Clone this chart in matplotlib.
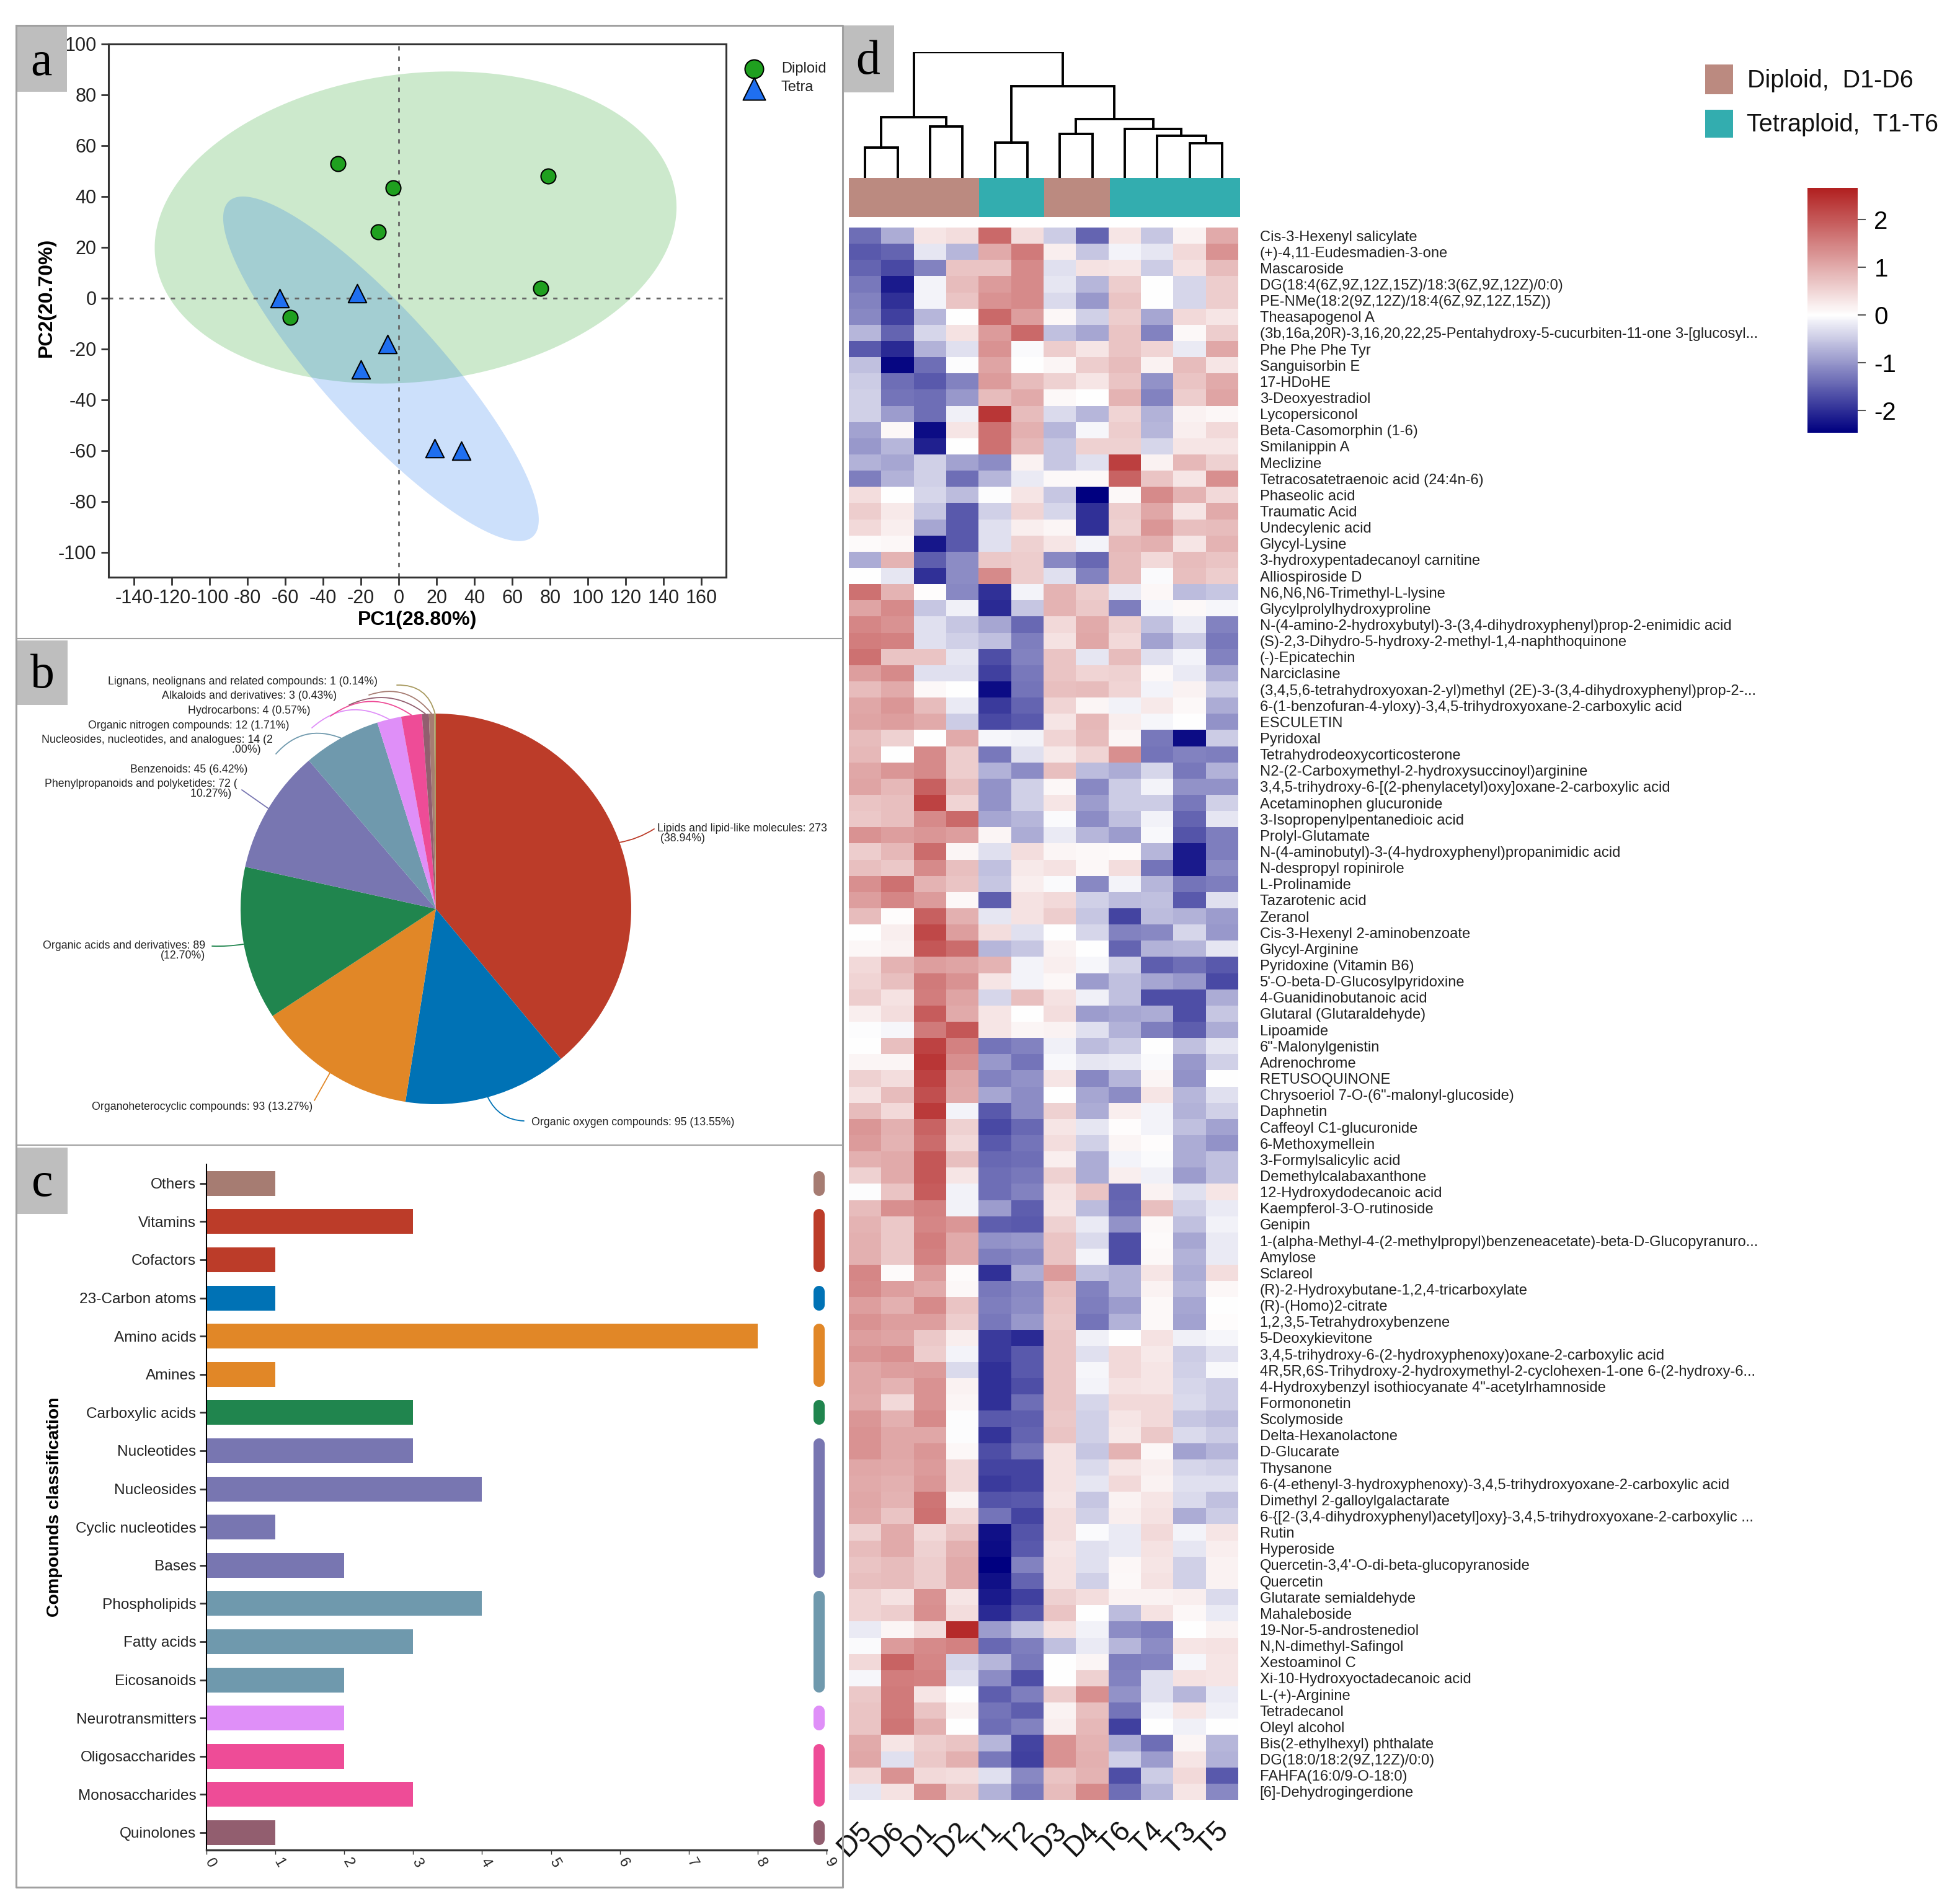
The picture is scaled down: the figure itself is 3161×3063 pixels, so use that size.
import numpy as np
import matplotlib
matplotlib.use("Agg")
from matplotlib import pyplot as plt
from matplotlib.colors import LinearSegmentedColormap, ListedColormap, TwoSlopeNorm
from matplotlib.patches import Rectangle
from matplotlib.transforms import ScaledTranslation

plt.rcParams['font.family'] = ['Liberation Sans', 'DejaVu Sans']
plt.rcParams['axes.unicode_minus'] = False

W = 3161
H = 3063

# panel a
diploid_pc1 = [-32, -3, 79, -11, 75, -57.5]
diploid_pc2 = [53, 43.5, 48, 26, 4, -7.6]
tetra_pc1 = [-63, -22, -6, -20, 19, 33]
tetra_pc2 = [0, 2, -18, -28, -59, -60]
# centre x, centre y, half width, half height, correlation
diploid_ellipse = [8.9, 27.8, 137.9, 61.4, 0.13]
tetra_ellipse = [-9.4, -27.8, 83.4, 67.8, -0.875]
pc1_ticks = list(range(-140, 161, 20))
pc2_ticks = list(range(-100, 101, 20))

# panel b
pie_names = ["Lipids and lipid-like molecules: 273\n (38.94%)",
             "Organic oxygen compounds: 95 (13.55%)",
             "Organoheterocyclic compounds: 93 (13.27%)",
             "Organic acids and derivatives: 89\n(12.70%)",
             "Phenylpropanoids and polyketides: 72 (\n10.27%)  ",
             "Benzenoids: 45 (6.42%)",
             "Nucleosides, nucleotides, and analogues: 14 (2\n.00%)    ",
             "Organic nitrogen compounds: 12 (1.71%)",
             "Hydrocarbons: 4 (0.57%)",
             "Alkaloids and derivatives: 3 (0.43%)",
             "Lignans, neolignans and related compounds: 1 (0.14%)"]
pie_counts = [273, 95, 93, 89, 72, 45, 14, 12, 4, 3, 1]
pie_colors = ["#BC3C29", "#0072B5", "#E18727", "#20854E", "#7876B1", "#6F99AD",
              "#DF8FF8", "#EE4C97", "#925E6F", "#A67C72", "#A89A60"]

# panel c
bar_names = ["Others", "Vitamins", "Cofactors", "23-Carbon atoms", "Amino acids", "Amines",
             "Carboxylic acids", "Nucleotides", "Nucleosides", "Cyclic nucleotides", "Bases",
             "Phospholipids", "Fatty acids", "Eicosanoids", "Neurotransmitters",
             "Oligosaccharides", "Monosaccharides", "Quinolones"]
bar_counts = [1, 3, 1, 1, 8, 1, 3, 3, 4, 1, 2, 4, 3, 2, 2, 2, 3, 1]
bar_groups = [0, 1, 1, 2, 3, 3, 4, 5, 5, 5, 5, 6, 6, 6, 7, 8, 8, 9]
group_colors = ["#A67C72", "#BC3C29", "#0072B5", "#E18727", "#20854E", "#7876B1",
                "#6F99AD", "#DF8FF8", "#EE4C97", "#925E6F"]

# panel d
sample_names = ["D5", "D6", "D1", "D2", "T1", "T2", "D3", "D4", "T6", "T4", "T3", "T5"]
# left node, right node, height. Leaves are 0-11, each merge makes the next node
merges = [(0, 1, 76), (2, 3, 130), (12, 13, 153), (4, 5, 90), (6, 7, 112), (10, 11, 87),
          (9, 17, 106), (8, 18, 123), (16, 19, 149), (15, 20, 232), (14, 21, 318)]
metabolites = [
    "Cis-3-Hexenyl salicylate", "(+)-4,11-Eudesmadien-3-one", "Mascaroside",
    "DG(18:4(6Z,9Z,12Z,15Z)/18:3(6Z,9Z,12Z)/0:0)", "PE-NMe(18:2(9Z,12Z)/18:4(6Z,9Z,12Z,15Z))",
    "Theasapogenol A", "(3b,16a,20R)-3,16,20,22,25-Pentahydroxy-5-cucurbiten-11-one 3-[glucosyl...",
    "Phe Phe Phe Tyr", "Sanguisorbin E", "17-HDoHE", "3-Deoxyestradiol", "Lycopersiconol",
    "Beta-Casomorphin (1-6)", "Smilanippin A", "Meclizine", "Tetracosatetraenoic acid (24:4n-6)",
    "Phaseolic acid", "Traumatic Acid", "Undecylenic acid", "Glycyl-Lysine",
    "3-hydroxypentadecanoyl carnitine", "Alliospiroside D", "N6,N6,N6-Trimethyl-L-lysine",
    "Glycylprolylhydroxyproline", "N-(4-amino-2-hydroxybutyl)-3-(3,4-dihydroxyphenyl)prop-2-enimidic acid",
    "(S)-2,3-Dihydro-5-hydroxy-2-methyl-1,4-naphthoquinone", "(-)-Epicatechin", "Narciclasine",
    "(3,4,5,6-tetrahydroxyoxan-2-yl)methyl (2E)-3-(3,4-dihydroxyphenyl)prop-2-...",
    "6-(1-benzofuran-4-yloxy)-3,4,5-trihydroxyoxane-2-carboxylic acid", "ESCULETIN", "Pyridoxal",
    "Tetrahydrodeoxycorticosterone", "N2-(2-Carboxymethyl-2-hydroxysuccinoyl)arginine",
    "3,4,5-trihydroxy-6-[(2-phenylacetyl)oxy]oxane-2-carboxylic acid", "Acetaminophen glucuronide",
    "3-Isopropenylpentanedioic acid", "Prolyl-Glutamate",
    "N-(4-aminobutyl)-3-(4-hydroxyphenyl)propanimidic acid", "N-despropyl ropinirole", "L-Prolinamide",
    "Tazarotenic acid", "Zeranol", "Cis-3-Hexenyl 2-aminobenzoate", "Glycyl-Arginine",
    "Pyridoxine (Vitamin B6)", "5'-O-beta-D-Glucosylpyridoxine", "4-Guanidinobutanoic acid",
    "Glutaral (Glutaraldehyde)", "Lipoamide", "6\"-Malonylgenistin", "Adrenochrome", "RETUSOQUINONE",
    "Chrysoeriol 7-O-(6\"-malonyl-glucoside)", "Daphnetin", "Caffeoyl C1-glucuronide", "6-Methoxymellein",
    "3-Formylsalicylic acid", "Demethylcalabaxanthone", "12-Hydroxydodecanoic acid",
    "Kaempferol-3-O-rutinoside", "Genipin",
    "1-(alpha-Methyl-4-(2-methylpropyl)benzeneacetate)-beta-D-Glucopyranuro...", "Amylose", "Sclareol",
    "(R)-2-Hydroxybutane-1,2,4-tricarboxylate", "(R)-(Homo)2-citrate", "1,2,3,5-Tetrahydroxybenzene",
    "5-Deoxykievitone", "3,4,5-trihydroxy-6-(2-hydroxyphenoxy)oxane-2-carboxylic acid",
    "4R,5R,6S-Trihydroxy-2-hydroxymethyl-2-cyclohexen-1-one 6-(2-hydroxy-6...",
    "4-Hydroxybenzyl isothiocyanate 4\"-acetylrhamnoside", "Formononetin", "Scolymoside",
    "Delta-Hexanolactone", "D-Glucarate", "Thysanone",
    "6-(4-ethenyl-3-hydroxyphenoxy)-3,4,5-trihydroxyoxane-2-carboxylic acid",
    "Dimethyl 2-galloylgalactarate",
    "6-{[2-(3,4-dihydroxyphenyl)acetyl]oxy}-3,4,5-trihydroxyoxane-2-carboxylic ...", "Rutin", "Hyperoside",
    "Quercetin-3,4'-O-di-beta-glucopyranoside", "Quercetin", "Glutarate semialdehyde", "Mahaleboside",
    "19-Nor-5-androstenediol", "N,N-dimethyl-Safingol", "Xestoaminol C", "Xi-10-Hydroxyoctadecanoic acid",
    "L-(+)-Arginine", "Tetradecanol", "Oleyl alcohol", "Bis(2-ethylhexyl) phthalate",
    "DG(18:0/18:2(9Z,12Z)/0:0)", "FAHFA(16:0/9-O-18:0)", "[6]-Dehydrogingerdione"]
heat_values = [
    [-1.4, -.8, .3, .4, 1.8, .4, -.5, -1.5, .3, -.55, .15, 1.0],
    [-1.6, -1.5, -.25, -.7, 1.0, 1.6, .2, -.55, -.1, -.25, .45, 1.3],
    [-1.5, -1.75, -1.2, .7, .7, 1.4, -.3, .35, .3, -.5, .35, .8],
    [-1.3, -2.2, -.1, .8, 1.2, 1.4, -.25, -.7, .6, 0, -.4, .6],
    [-1.2, -2.0, -.1, .7, 1.3, 1.4, -.35, -1.0, .7, 0, -.4, .6],
    [-1.15, -1.85, -.7, 0, 1.8, 1.15, .1, -.45, .6, -.85, .45, .3],
    [-.7, -1.5, -.4, .35, 1.2, 1.8, -.6, -.85, .7, -1.2, .08, .6],
    [-1.6, -2.05, -.75, -.3, 1.3, -.05, .6, .3, .7, .5, -.2, 1.05],
    [-.6, -2.4, -1.4, -.02, 1.1, 0, .12, .6, .8, .15, .8, .3],
    [-.5, -1.4, -1.6, -1.2, 1.2, .8, .55, .3, .7, -1.05, .7, 1.0],
    [-.45, -1.35, -1.4, -1.0, .8, 1.0, .08, 0, .9, -1.2, .6, 1.1],
    [-.45, -.95, -1.4, -.15, 2.4, .8, -.35, -.7, .5, -.75, .15, .1],
    [-.9, .1, -2.35, .3, 1.7, .95, -.7, -.08, .6, -.7, .2, .45],
    [-1.0, -.7, -2.15, 0, 1.7, .85, -.55, .55, .55, -.4, .3, .3],
    [-.75, -.85, -.45, -.9, -1.1, .15, -.55, -.3, 2.3, .15, .85, .55],
    [-1.25, -.75, -.45, -1.4, -.7, -.2, .08, .08, 1.85, .7, .3, 1.35],
    [.4, 0, -.4, -.65, -.03, .3, -.55, -2.5, .08, 1.4, .9, .45],
    [.6, .25, -.55, -1.6, -.45, .5, -.4, -2.0, .6, 1.05, .3, 1.0],
    [.45, .2, -.85, -1.6, -.3, .2, .12, -2.0, .55, 1.25, .75, .8],
    [.05, .1, -2.25, -1.6, -.3, .55, .3, -.1, .85, .95, .3, .9],
    [-.8, .9, -1.55, -1.1, .65, .6, -1.15, -1.45, .8, .45, .8, .7],
    [0, -.25, -2.0, -1.1, 1.4, .6, -.3, -1.2, .8, -.05, .75, .6],
    [1.7, .9, .03, -1.15, -2.0, -.1, .9, .6, -.2, .1, -.65, -.55],
    [1.1, 1.4, -.55, -.15, -2.05, -.55, .9, .65, -1.25, -.08, .08, -.08],
    [1.45, 1.3, -.3, -.55, -.85, -1.45, .45, 1.0, .55, -.6, -.2, -1.2],
    [1.55, 1.5, -.3, -.45, -.6, -1.25, .35, 1.05, .45, -.9, -.5, -1.3],
    [1.7, .7, .7, -.25, -1.7, -1.2, .7, -.25, .8, -.3, -.1, -1.2],
    [1.15, 1.4, -.3, -.3, -1.85, -1.3, .7, .5, .55, .08, -.2, -.8],
    [.8, 1.0, .08, 0, -2.35, -1.35, .75, .8, .5, -.1, .15, -.5],
    [1.05, 1.25, .8, -.2, -1.9, -1.5, .5, .12, -.12, .25, .08, -.8],
    [1.1, 1.15, 1.0, -.5, -1.75, -1.6, .3, .85, .2, -.08, 0, -1.05],
    [.8, .55, 0, 1.0, -.08, -.12, .5, .8, .12, -1.3, -2.35, -.5],
    [.85, 0, 1.4, .6, -1.3, -.3, .25, .5, 1.35, -1.35, -1.2, -1.25],
    [1.05, 1.25, 1.4, .6, -.75, -1.1, .75, -.65, -.8, -.4, -1.3, -.75],
    [1.1, .85, 1.9, .75, -1.05, -.45, .1, -1.15, -.5, -.1, -1.05, -1.05],
    [.7, .75, 2.25, .5, -1.05, -.45, .3, -.95, -.5, -.5, -1.3, -.45],
    [.65, .75, 1.4, 1.8, -.85, -.7, -.05, -1.1, -.6, -.12, -1.5, -.25],
    [1.3, 1.15, 1.25, 1.15, .12, -.8, -.2, -.7, -.95, -.06, -1.65, -1.25],
    [.6, .85, 1.75, .12, -.3, .4, .12, .08, .05, -.7, -2.2, -1.25],
    [.75, .65, 1.4, .75, -.6, .25, .35, .1, .4, -1.35, -2.2, -1.1],
    [1.35, 1.7, .9, .7, -.55, .2, -.05, -1.15, -.1, -.7, -1.35, -1.25],
    [1.15, 1.45, 1.2, .1, -1.55, .35, .45, -.45, -.65, -.6, -1.6, -.3],
    [.8, .03, 1.9, .95, -.25, .35, .6, -.55, -1.8, -.65, -.75, -.95],
    [0, .2, 2.2, 1.15, .4, -.3, 0, -.4, -1.2, -1.15, -.4, -1.0],
    [.1, .15, 2.0, 1.75, -.7, -.55, .15, 0, -1.5, -.75, -.7, -.25],
    [.45, .9, 1.15, 1.1, .9, -.1, .2, -.08, -.45, -1.55, -1.4, -1.6],
    [.5, .75, 1.6, 1.3, .3, -.1, .1, -.95, -.6, -.85, -1.0, -1.75],
    [.6, .35, 1.55, 1.1, -.4, .75, .35, -.15, -.6, -1.7, -1.7, -.8],
    [.2, .4, 1.95, 1.0, .3, 0, .4, -.95, -.85, -.8, -1.7, -.55],
    [-.02, -.08, 1.6, 2.0, .3, .12, .15, -.3, -.75, -1.25, -1.55, -.8],
    [0, .75, 2.25, 1.5, -1.35, -1.2, -.15, -.65, -.5, 0, -.6, -.25],
    [.12, .12, 2.4, 1.35, -1.0, -1.35, -.06, -.25, -.2, -.04, -1.0, -.45],
    [.55, .4, 2.25, 1.05, -1.2, -1.05, .3, -1.15, -.7, .12, -1.05, 0],
    [.35, .8, 2.1, 1.0, -.85, -1.1, 0, -.85, -1.1, .3, -.7, -.3],
    [.8, .45, 2.35, -.1, -1.6, -1.1, .55, -.8, .2, -.1, -.75, -.45],
    [1.25, .95, 1.85, .55, -1.75, -1.45, .3, -.25, .03, -.1, -.6, -.9],
    [1.2, .9, 1.75, .45, -1.6, -1.35, .4, -.45, .12, .04, -.8, -1.05],
    [.95, 1.0, 2.0, .75, -1.45, -1.4, .2, -.8, -.1, -.04, -.8, -.6],
    [.55, 1.0, 2.0, .3, -1.4, -1.3, .55, -.8, .2, -.15, -.95, -.6],
    [-.02, .7, 1.95, -.12, -1.4, -1.2, .35, .7, -1.5, .15, -.3, .3],
    [.8, 1.35, 1.5, -.12, -.95, -1.55, .3, -.65, -1.45, .75, -.45, -.2],
    [.9, .65, 1.45, 1.25, -1.55, -1.6, .55, -.2, -1.05, .08, -.6, -.12],
    [.95, .65, 1.55, 1.0, -1.05, -1.0, .7, -.35, -1.7, .05, -.85, -.2],
    [.95, .65, 1.5, 1.0, -1.25, -1.15, .7, -.1, -1.7, .08, -.75, -.2],
    [1.45, .06, 1.2, .06, -2.0, -.8, 1.2, -.6, -.75, .3, -.8, .4],
    [1.4, 1.15, 1.0, .1, -1.3, -1.15, .75, -1.2, -.75, .15, -.7, .1],
    [1.15, .95, 1.4, .7, -1.25, -1.1, .7, -1.25, -.95, .08, -.85, 0],
    [1.3, 1.15, 1.15, .6, -1.3, -1.0, .65, -1.35, -.75, .08, -.9, .04],
    [1.15, 1.1, .65, .2, -1.9, -2.05, .7, -.15, 0, .35, -.15, -.08],
    [1.25, 1.35, .6, -.1, -1.9, -1.6, .7, -.3, .45, .25, -.5, -.3],
    [1.05, 1.15, 1.2, -.35, -2.0, -1.6, .7, -.08, .45, .3, -.45, -.06],
    [1.05, .9, 1.3, .15, -2.0, -1.7, .7, -.1, .35, .3, -.4, -.5],
    [1.0, .45, 1.3, .12, -2.0, -1.4, .7, -.4, .45, .45, -.35, -.5],
    [1.25, .95, 1.4, -.02, -1.6, -1.55, .65, -.45, .3, .45, -.55, -.65],
    [1.3, 1.05, 1.05, -.02, -1.95, -1.5, .7, -.45, .25, .65, -.35, -.5],
    [1.3, 1.05, 1.25, .1, -1.7, -1.35, .35, -.55, .9, .1, -.9, -.7],
    [1.05, 1.0, 1.2, .45, -1.8, -1.8, .35, -.35, .3, .2, -.4, -.45],
    [1.0, .95, 1.25, .45, -1.9, -1.8, .35, -.25, .45, .15, -.3, -.3],
    [1.05, .9, 1.65, .15, -1.65, -1.6, .3, -.55, .15, .3, -.35, -.6],
    [1.0, .7, 1.7, .45, -1.35, -1.8, .4, -.45, .2, .35, -.8, -.5],
    [.55, 1.0, .45, .7, -2.3, -1.65, .4, -.04, -.2, .45, -.1, .3],
    [.8, 1.0, .55, .95, -2.35, -1.6, .3, -.3, -.2, .35, -.25, .2],
    [.7, .8, .6, 1.0, -2.5, -1.2, .35, -.3, .1, .3, -.45, .15],
    [.75, .8, .6, 1.0, -2.3, -1.5, .35, -.45, .08, .35, -.45, .15],
    [.5, .35, 1.3, .3, -2.2, -1.85, .55, .4, .15, .15, .2, -.35],
    [.5, .6, 1.35, .4, -2.05, -1.65, .7, 0, -.65, .35, .1, -.2],
    [-.2, .12, .4, 2.55, -.95, -.55, .35, -.12, -1.1, -1.25, .02, .15],
    [-.04, 1.2, 1.4, 1.5, -1.45, -1.25, -.6, -.2, -.7, -1.1, .3, .35],
    [.45, 1.85, 1.45, -.4, -.7, -1.3, 0, .12, -1.25, -1.2, -.08, .3],
    [-.08, 1.55, 1.5, -.3, -1.1, -1.7, .02, .55, -1.2, -.3, .35, .3],
    [.65, 1.6, .3, 0, -1.55, -1.25, .6, 1.35, -1.05, -.3, -.7, -.2],
    [.7, 1.6, .7, .15, -1.35, -1.55, .15, .75, -1.35, -.1, .3, -.15],
    [.7, 1.65, .95, .02, -1.4, -1.2, .2, .85, -1.85, 0, -.15, 0],
    [1.0, .3, .6, .7, -.7, -1.8, 1.3, .9, -.8, -1.4, .12, -.7],
    [1.05, -.3, .65, .95, -1.3, -1.85, 1.3, .95, -.45, -.95, .3, -.75],
    [.45, 1.3, .45, .4, -.3, -1.15, .7, .9, -1.7, -.5, .45, -1.6],
    [-.25, .35, 1.3, .65, -.75, -1.3, .8, 1.4, -1.4, -.7, .3, -1.15]]


def place(left, top, right, bottom, **kw):
    # axes from pixel edges of the final picture
    return fig.add_axes([left / W, 1 - bottom / H, (right - left) / W, (bottom - top) / H], **kw)


def ellipse_outline(params):
    cx, cy, sx, sy, rho = params
    t = np.linspace(0, 2 * np.pi, 300)
    return cx + sx * np.cos(t), cy + sy * (rho * np.cos(t) + np.sqrt(1 - rho ** 2) * np.sin(t))


def nudge(labels, px):
    # has to come after tick_params, which resets the label transforms
    for lab in labels:
        lab.set_transform(lab.get_transform() + ScaledTranslation(px / 100, 0, fig.dpi_scale_trans))


fig = plt.figure(figsize=(W / 100, H / 100), dpi=100, facecolor="white")

# ---- a: PCA
ax_a = place(175, 71, 1171, 931)
x, y = ellipse_outline(diploid_ellipse)
ax_a.fill(x, y, color="#37AB37", alpha=0.25, lw=0)
x, y = ellipse_outline(tetra_ellipse)
ax_a.fill(x, y, color="#0064EB", alpha=0.2, lw=0)
ax_a.axhline(0, color="#666666", lw=2, ls=(0, (2.5, 3.5)), zorder=2)
ax_a.axvline(0, color="#666666", lw=2, ls=(0, (2.5, 3.5)), zorder=2)
ax_a.scatter(diploid_pc1, diploid_pc2, s=300, marker="o", color="#1FA01F", edgecolor="black", lw=1.5, zorder=3)
ax_a.scatter(tetra_pc1, tetra_pc2, s=450, marker="^", color="#1F6FF0", edgecolor="black", lw=1.5, zorder=3)
ax_a.set_xlim(-153.4, 173)
ax_a.set_ylim(-109.8, 100)
ax_a.set_xticks(pc1_ticks)
ax_a.set_yticks(pc2_ticks)
ax_a.tick_params(labelsize=22, length=9, width=2, color="#333333", labelcolor="#222222", pad=5)
ax_a.set_xlabel("PC1(28.80%)", fontsize=23, fontweight="bold", labelpad=3)
ax_a.set_ylabel("PC2(20.70%)", fontsize=23, fontweight="bold", labelpad=3, y=0.524)
for side in ax_a.spines.values():
    side.set_linewidth(2.2)
    side.set_color("#333333")

# ---- b: pie
ax_b = place(703 - 315, 1466 - 315, 703 + 315, 1466 + 315)
wedges, _ = ax_b.pie(pie_counts, colors=pie_colors, startangle=90, counterclock=False,
                     wedgeprops={"linewidth": 0})
ax_b.set_xlim(-1, 1)
ax_b.set_ylim(-1, 1)

# ---- c: bars
ax_c = place(333, 1878, 1333, 2984)
ypos = np.arange(len(bar_names))
ax_c.barh(ypos, bar_counts, height=0.65, color=[group_colors[g] for g in bar_groups])
for g, col in enumerate(group_colors):
    rows = ypos[np.array(bar_groups) == g]
    ax_c.plot([8.89, 8.89], [rows[0] - 0.18, rows[-1] + 0.18], color=col, lw=13, solid_capstyle="round")
ax_c.set_xlim(0, 9)
ax_c.set_ylim(17.455, -0.5)
ax_c.set_yticks(ypos)
ax_c.set_yticklabels(bar_names, fontsize=17.6)
ax_c.set_xticks(range(10))
ax_c.set_xticklabels(range(10), fontsize=17, rotation=-60, ha="left", rotation_mode="anchor")
ax_c.tick_params(axis="y", length=8, width=2, pad=4, color="#333333", labelcolor="#222222")
ax_c.tick_params(axis="x", length=5, width=1, pad=2, color="#333333", labelcolor="#222222")
nudge(ax_c.get_xticklabels(), 12)
ax_c.set_ylabel("Compounds classification", fontsize=20.5, fontweight="bold", labelpad=15)
ax_c.spines["top"].set_visible(False)
ax_c.spines["right"].set_visible(False)
ax_c.spines["left"].set_linewidth(1.5)
ax_c.spines["bottom"].set_linewidth(2.4)
ax_c.spines["bottom"].set_color("#333333")

# ---- d: dendrogram, annotation bar, heatmap, colour bar
ax_den = place(1369, 84, 1997, 287)
node_x = [i + 0.5 for i in range(len(sample_names))]
node_h = [0] * len(sample_names)
for left, right, height in merges:
    ax_den.plot([node_x[left], node_x[left], node_x[right], node_x[right]],
                [node_h[left], height, height, node_h[right]],
                color="black", lw=2.8, solid_joinstyle="miter")
    node_x.append((node_x[left] + node_x[right]) / 2)
    node_h.append(height)
ax_den.set_xlim(0, 12)
ax_den.set_ylim(0, 318)
ax_den.axis("off")

ax_ann = place(1369, 287, 2000, 350)
groups = [[0 if s[0] == "D" else 1 for s in sample_names]]
ax_ann.imshow(groups, aspect="auto", cmap=ListedColormap(["#BB8A80", "#33ADAF"]), vmin=0, vmax=1,
              interpolation="nearest")
ax_ann.axis("off")

heat_cmap = LinearSegmentedColormap.from_list("navy_red", ["navy", "white", "firebrick"])
heat_norm = TwoSlopeNorm(vmin=-2.47, vcenter=0, vmax=2.66)
ax_d = place(1369, 367, 1997, 2903)
ax_d.imshow(heat_values, aspect="auto", cmap=heat_cmap, norm=heat_norm, interpolation="nearest")
ax_d.set_xticks(range(len(sample_names)))
ax_d.set_xticklabels(sample_names, fontsize=33, rotation=45, ha="right", va="top",
                     rotation_mode="anchor", color="#111111")
ax_d.yaxis.tick_right()
ax_d.set_yticks(range(len(metabolites)))
ax_d.set_yticklabels(metabolites, fontsize=17.1, color="#222222")
ax_d.tick_params(axis="y", length=0, pad=25)
ax_d.tick_params(axis="x", length=0, pad=20)
nudge(ax_d.get_xticklabels(), -12)
for side in ax_d.spines.values():
    side.set_visible(False)

ax_cb = place(2915, 303, 2996, 698)
bar_vals = np.linspace(2.66, -2.47, 256).reshape(-1, 1)
ax_cb.imshow(bar_vals, aspect="auto", cmap=heat_cmap, norm=heat_norm, extent=[0, 1, -2.47, 2.66])
ax_cb.set_xticks([])
ax_cb.yaxis.tick_right()
ax_cb.set_yticks([-2, -1, 0, 1, 2])
ax_cb.set_yticklabels(["-2", "-1", "0", "1", "2"], fontsize=29)
ax_cb.tick_params(axis="y", length=9, width=1.5, color="#555555", pad=10)
for side in ax_cb.spines.values():
    side.set_visible(False)

# ---- everything placed by pixel: panel frames, letter tabs, legends, pie labels
over = fig.add_axes([0, 0, 1, 1], zorder=5)
over.set_xlim(0, W)
over.set_ylim(H, 0)
over.axis("off")
over.patch.set_alpha(0)

frame_color = "#A0A0A0"
over.plot([26, 1359, 1359, 26, 26], [41, 41, 3044, 3044, 41], color=frame_color, lw=2.2)
over.plot([26, 1359], [1030, 1030], color=frame_color, lw=1.5)
over.plot([26, 1359], [1847, 1847], color=frame_color, lw=1.5)

tabs = [("a", 26, 41, 108, 148, 66, 121), ("b", 26, 1033, 109, 1137, 68, 1109),
        ("c", 26, 1851, 109, 1958, 68, 1929), ("d", 1360, 41, 1442, 149, 1400, 119)]
for letter, x0, y0, x1, y1, tx, ty in tabs:
    over.add_patch(Rectangle((x0, y0), x1 - x0, y1 - y0, color="#BEBEBE", lw=0))
    over.text(tx, ty, letter, family="Liberation Serif", fontsize=56, ha="center", va="baseline", color="black")

# panel a legend
over.scatter([1216], [111], s=466, marker="o", color="#1FA01F", edgecolor="black", lw=1.5)
over.scatter([1216], [143], s=672, marker="^", color="#1F6FF0", edgecolor="black", lw=1.5)
over.text(1260, 111, "Diploid", fontsize=17, va="center", color="#222222")
over.text(1260, 141, "Tetra", fontsize=17, va="center", color="#222222")

# panel d legend
over.add_patch(Rectangle((2750, 104), 45, 48, color="#BB8A80", lw=0))
over.add_patch(Rectangle((2750, 177), 45, 45, color="#33ADAF", lw=0))
over.text(2818, 130, "Diploid,  D1-D6", fontsize=28.5, va="center", color="#111111")
over.text(2817, 201, "Tetraploid,  T1-T6", fontsize=28.5, va="center", color="#111111")

# pie labels: text anchor x, first line centre y, alignment, then where the leader starts and its bend
pie_text = [(1060, 1337, "left", 1055, 1337, -0.1),
            (857, 1811, "left", 845, 1808, -0.3),
            (504, 1786, "right", 507, 1775, 0),
            (331, 1526, "right", 342, 1526, 0.05),
            (383, 1265, "right", 390, 1274, 0),
            (399, 1242, "right", 445, 1216, -0.35),
            (440, 1194, "right", 503, 1174, -0.35),
            (467, 1171, "right", 533, 1155, -0.35),
            (501, 1147, "right", 563, 1137, -0.3),
            (543, 1123, "right", 595, 1121, -0.35),
            (609, 1100, "right", 640, 1105, -0.4)]
for i, (name, wedge) in enumerate(zip(pie_names, wedges)):
    tx, ty, ha, lx, ly, rad = pie_text[i]
    over.text(tx, ty - 9, name, fontsize=12.8, ha=ha, va="top", color="#222222", linespacing=0.95)
    mid = np.radians((wedge.theta1 + wedge.theta2) / 2)
    ax_b.annotate("", xy=(np.cos(mid), np.sin(mid)), xycoords="data",
                  xytext=(lx, ly), textcoords=over.transData, annotation_clip=False,
                  arrowprops={"arrowstyle": "-", "color": wedge.get_facecolor(), "lw": 1.3,
                              "shrinkA": 0, "shrinkB": 0,
                              "connectionstyle": "arc3,rad=%s" % rad})

fig.savefig("out.png", dpi=100)
